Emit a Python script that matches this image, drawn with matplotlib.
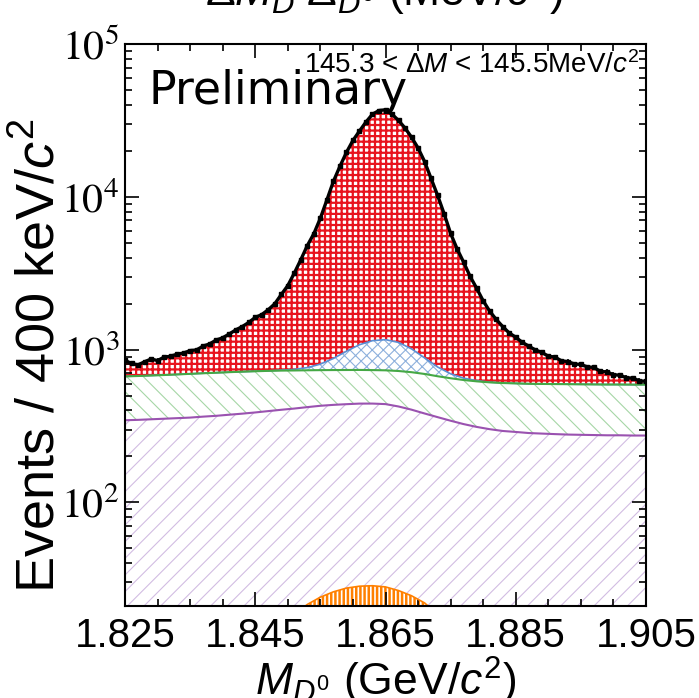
import numpy as np
import matplotlib
matplotlib.use("Agg")
import matplotlib.pyplot as plt
from matplotlib.ticker import FixedLocator, MultipleLocator, LogLocator, NullFormatter

# ---------------- data ----------------
# data points (1 MeV spacing), M_D0 in GeV
x_data = np.arange(1825, 1906, 1) / 1000.0
n_data = [850, 812, 795, 832, 868, 848, 893, 905, 934, 950,
          985, 996, 1055, 1090, 1155, 1195, 1265, 1345, 1415, 1505,
          1625, 1695, 1825, 1995, 2295, 2625, 3170, 3880, 4800, 5740,
          7250, 9540, 12620, 15830, 19520, 23380, 26930, 30870, 34720, 36680,
          37150, 34690, 31620, 28180, 24520, 20880, 17020, 13180, 10220, 7750,
          5760, 4560, 3730, 3010, 2520, 2085, 1785, 1575, 1415, 1285,
          1205, 1115, 1055, 995, 960, 905, 895, 845, 835, 805,
          800, 770, 765, 720, 715, 685, 680, 655, 650, 625, 620]

# fit components (2 MeV spacing)
x_comp = np.arange(1825, 1906, 2) / 1000.0
orange = [0, 0, 0, 0, 0, 0.1, 0.3, 0.8, 2, 4, 7, 11, 15, 18.5, 21.5, 24, 26, 27.5, 28.3, 28.5,
          28, 26.5, 24.5, 22, 18.5, 14.5, 10.5, 7, 4.5, 2.5, 1.2, 0.5, 0.2, 0, 0, 0, 0, 0, 0, 0, 0]
purple = [345, 347, 350, 353, 356, 359, 364, 368, 373, 377, 381, 385, 389, 393, 399, 405, 409, 412, 415, 415,
          412, 398, 380, 360, 343, 328, 315, 305, 297, 291, 288, 284, 282, 280, 278, 277, 276, 275, 275, 274, 274]
green = [323, 325, 327, 329, 332, 335, 336, 337, 337, 336, 334, 330, 325, 319, 312, 305, 300, 296, 293, 291,
         292, 300, 307, 311, 308, 307, 307, 308, 309, 311, 312, 313, 314, 315, 316, 316, 316, 316, 316, 316, 316]
blue = [0, 0, 0, 0, 0, 0, 0, 0, 0, 0, 0, 0, 5, 12, 30, 70, 140, 240, 340, 410,
        430, 390, 300, 190, 100, 45, 18, 6, 2, 0, 0, 0, 0, 0, 0, 0, 0, 0, 0, 0, 0]

x_ticks = [1.825, 1.845, 1.865, 1.885, 1.905]
x_ticklabels = ["1.825", "1.845", "1.865", "1.885", "1.905"]
y_ticks = [1e2, 1e3, 1e4, 1e5]
y_ticklabels = [r"$10^{2}$", r"$10^{3}$", r"$10^{4}$", r"$10^{5}$"]

# ---------------- style ----------------
plt.rcParams['font.family'] = ['Liberation Sans', 'DejaVu Sans']
plt.rcParams['mathtext.fontset'] = 'custom'
plt.rcParams['mathtext.rm'] = 'Liberation Sans'
plt.rcParams['mathtext.it'] = 'Liberation Sans:italic'
plt.rcParams['mathtext.bf'] = 'Liberation Sans:bold'

fig = plt.figure(figsize=(6.99, 6.98), dpi=100)
ax = fig.add_axes([125/699, 92/698, 521/699, 562/698])
ax.set_yscale('log')
ymin, ymax = 21, 1e5
ax.set_xlim(1.825, 1.905)
ax.set_ylim(ymin, ymax)

s_or = np.array(orange)
s_pu = s_or + np.array(purple)
s_gr = s_pu + np.array(green)
s_bl = s_gr + np.array(blue)

RED = '#e8141e'

def hfill(x, top, hatch, color, lw):
    with plt.rc_context({'hatch.linewidth': lw}):
        ax.fill_between(x, ymin * 0.5, top, facecolor='white', edgecolor=color,
                        hatch=hatch, linewidth=0)

# signal (red) up to data
hfill(x_data, n_data, '+++', RED, 1.6)
# blue peaking bkg
hfill(x_comp, s_bl, 'xxx', '#8db0dc', 0.8)
ax.plot(x_comp, s_bl, color='#5a8fd4', lw=1.2)
# green bkg
hfill(x_comp, s_gr, '\\\\', '#a6d6a6', 0.8)
ax.plot(x_comp, s_gr, color='#45a845', lw=1.5)
# purple bkg
hfill(x_comp, s_pu, '//', '#d2bde2', 0.8)
ax.plot(x_comp, s_pu, color='#9a52b0', lw=1.5)
# orange
hfill(x_comp, s_or, '||||', '#ff8000', 1.8)
ax.plot(x_comp, s_or, color='#ff8000', lw=1.2)

# data points
n_arr = np.array(n_data, dtype=float)
ax.errorbar(x_data, n_arr, yerr=np.sqrt(n_arr), fmt='s', color='black', ms=2.5,
            elinewidth=1.2, capsize=0, zorder=5)
ax.plot(x_data, n_arr, color='black', lw=2.4, zorder=5)

# ticks
ax.xaxis.set_major_locator(FixedLocator(x_ticks))
ax.set_xticklabels(x_ticklabels)
ax.xaxis.set_minor_locator(MultipleLocator(0.005))
ax.yaxis.set_major_locator(FixedLocator(y_ticks))
ax.set_yticklabels(y_ticklabels)
ax.yaxis.set_minor_locator(LogLocator(base=10, subs=np.arange(2, 10)))
ax.yaxis.set_minor_formatter(NullFormatter())
ax.tick_params(which='both', direction='in', top=True, right=True, width=1.2)
ax.tick_params(which='major', length=10)
ax.tick_params(which='minor', length=5)
ax.tick_params(axis='x', labelsize=29, pad=8)
ax.tick_params(axis='y', labelsize=30, pad=4)
for t in ax.get_yticklabels():
    t.set_math_fontfamily('stix')
for sp in ax.spines.values():
    sp.set_linewidth(1.5)

ax.set_xlabel(r"$M_{D^{0}}$ (GeV/$c^{2}$)", fontsize=32, labelpad=0)
ax.set_ylabel(r"Events / 400 keV/$c^{2}$", fontsize=39)
ax.yaxis.set_label_coords(-0.115, 0.445)

ax.text(0.045, 0.893, "Preliminary", transform=ax.transAxes, fontsize=33,
        family='DejaVu Sans', ha='left', va='baseline', zorder=6)
ax.text(0.988, 0.948, r"145.3 < $\Delta M$ < 145.5MeV/$c^{2}$", transform=ax.transAxes,
        fontsize=20, ha='right', va='baseline', zorder=6)

fig.text(0.55, 0.99, r"$\Delta M_{D^{*}}\Delta_{D^{0}}$ (MeV/$c^{2}$)", fontsize=32,
         ha='center', va='baseline')

fig.savefig("out.png", dpi=100)
